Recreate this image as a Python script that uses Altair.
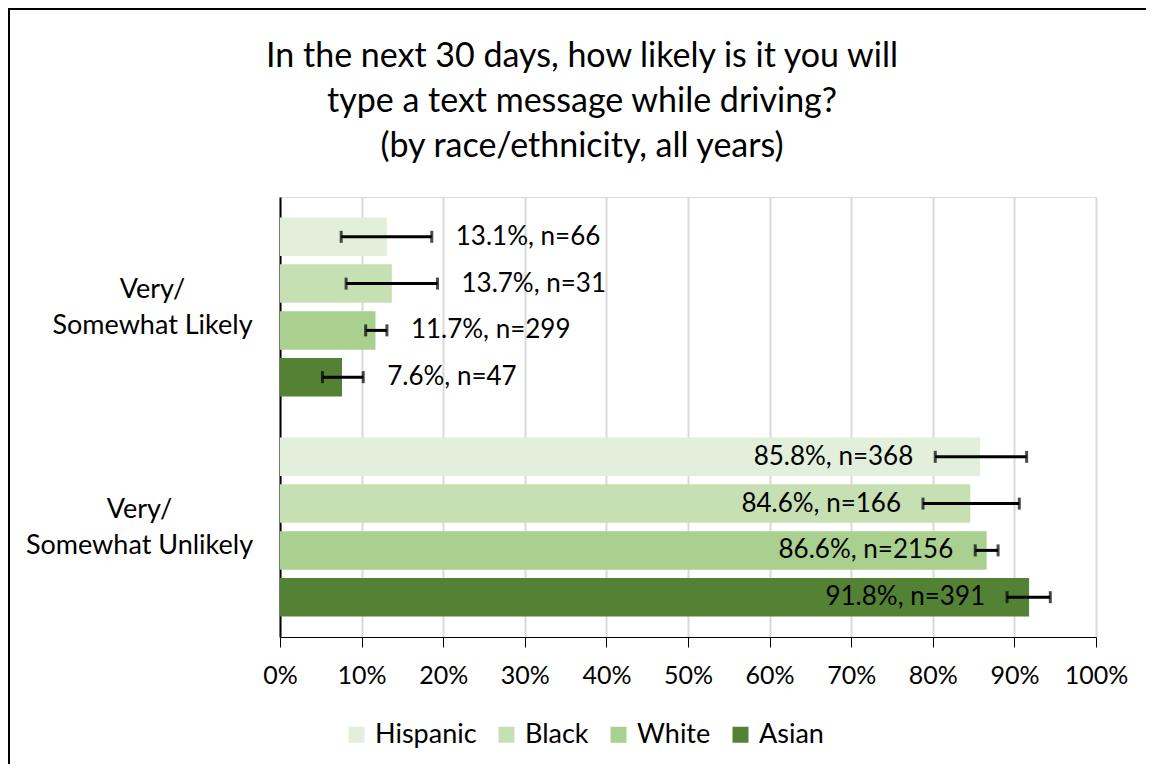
import altair as alt
import pandas as pd

races = ["Hispanic", "Black", "White", "Asian"]
colors = ["#E2EFDA", "#C6E0B4", "#A9D08E", "#548235"]
responses = ["Very/ Somewhat Likely", "Very/ Somewhat Unlikely"]

likely_pct = [13.1, 13.7, 11.7, 7.6]
likely_n = [66, 31, 299, 47]
likely_lo = [7.5, 8.1, 10.5, 5.2]
likely_hi = [18.6, 19.3, 13.1, 10.2]

unlikely_pct = [85.8, 84.6, 86.6, 91.8]
unlikely_n = [368, 166, 2156, 391]
unlikely_lo = [80.3, 78.8, 85.2, 89.1]
unlikely_hi = [91.5, 90.6, 88.0, 94.4]

x_ticks = list(range(0, 101, 10))

rows = []
for resp, pcts, ns, los, his in [
    (responses[0], likely_pct, likely_n, likely_lo, likely_hi),
    (responses[1], unlikely_pct, unlikely_n, unlikely_lo, unlikely_hi),
]:
    for r, p, n, lo, hi in zip(races, pcts, ns, los, his):
        rows.append({"response": resp, "race": r, "pct": p, "n": n, "lo": lo, "hi": hi,
                     "label": f"{p:.1f}%, n={n}"})
df = pd.DataFrame(rows)

FONT = "Lato"

base = alt.Chart(df)

y_enc = alt.Y("response:N", sort=responses, title=None,
              scale=alt.Scale(paddingInner=0, paddingOuter=0),
              axis=alt.Axis(labelExpr="[slice(datum.label, 0, 5), slice(datum.label, 6)]",
                            labelAlign="center", labelBaseline="middle",
                            labelPadding={"condition": {"test": f"datum.value == '{responses[1]}'",
                                                        "value": 141},
                                          "value": 128},
                            labelOffset=-17,
                            ticks=False, tickSize=0, labelLimit=400, labelFontSize=27,
                            labelLineHeight=36, domainColor="black", domainWidth=2,
                            grid=False, labelColor="black", labelFont=FONT))
yoff_enc = alt.YOffset("race:N", sort=races,
                       scale=alt.Scale(domain=races, paddingInner=0.177, paddingOuter=0.44))

bars = base.mark_bar().encode(
    x=alt.X("pct:Q", title=None, scale=alt.Scale(domain=[0, 100]),
            axis=alt.Axis(values=x_ticks, labelExpr="datum.value + '%'", grid=True,
                          gridColor="#d9d9d9", gridWidth=2, domainColor="black",
                          domainWidth=1, tickColor="black", tickSize=10, tickWidth=1,
                          labelFontSize=25, labelPadding=16, labelColor="black",
                          labelFont=FONT, labelFlush=False)),
    y=y_enc,
    yOffset=yoff_enc,
    color=alt.Color("race:N", sort=races,
                    scale=alt.Scale(domain=races, range=colors),
                    legend=alt.Legend(title=None, orient="none", legendX=63, legendY=524,
                                      direction="horizontal", symbolType="square",
                                      symbolSize=256, symbolStrokeWidth=0,
                                      labelFontSize=27, labelOffset=5, columnPadding=16,
                                      labelColor="black", labelFont=FONT)),
)

err = base.mark_rule(color="black", strokeWidth=3).encode(
    x="lo:Q", x2="hi:Q", y=alt.Y("response:N", sort=responses), yOffset=yoff_enc)
cap_lo = base.mark_tick(color="black", thickness=3, size=12).encode(
    x="lo:Q", y=alt.Y("response:N", sort=responses), yOffset=yoff_enc)
cap_hi = base.mark_tick(color="black", thickness=3, size=12).encode(
    x="hi:Q", y=alt.Y("response:N", sort=responses), yOffset=yoff_enc)

txt_likely = base.transform_filter(alt.datum.response == responses[0]).mark_text(
    align="left", baseline="middle", dx=24, fontSize=26, font=FONT, color="black").encode(
    x="hi:Q", y=alt.Y("response:N", sort=responses), yOffset=yoff_enc, text="label:N")
txt_unlikely = base.transform_filter(alt.datum.response == responses[1]).mark_text(
    align="right", baseline="middle", dx=-22, fontSize=26, font=FONT, color="black").encode(
    x="lo:Q", y=alt.Y("response:N", sort=responses), yOffset=yoff_enc, text="label:N")

frame_data = alt.Data(values=[{"k": 1}])
border_top = alt.Chart(frame_data).mark_rule(color="black", strokeWidth=2).encode(
    x=alt.value(-272), x2=alt.value(870), y=alt.value(-188))
border_left = alt.Chart(frame_data).mark_rule(color="black", strokeWidth=2).encode(
    x=alt.value(-271), y=alt.value(-188), y2=alt.value(570))

chart = alt.layer(bars, err, cap_lo, cap_hi, txt_likely, txt_unlikely,
                  border_top, border_left).properties(
    width=816, height=440,
    title=alt.Title(["In the next 30 days, how likely is it you will",
                     "type a text message while driving?",
                     "(by race/ethnicity, all years)"],
                    fontSize=34, font=FONT, fontWeight="normal", lineHeight=45,
                    color="black", anchor="middle", dx=-106, offset=-156),
    padding={"left": 272, "top": 189, "right": 50, "bottom": 127},
    autosize=alt.AutoSizeParams(type="none"),
).configure_view(stroke=None).configure(background="white")

chart.save("out.html", embed_options={"renderer": "svg", "actions": False})
